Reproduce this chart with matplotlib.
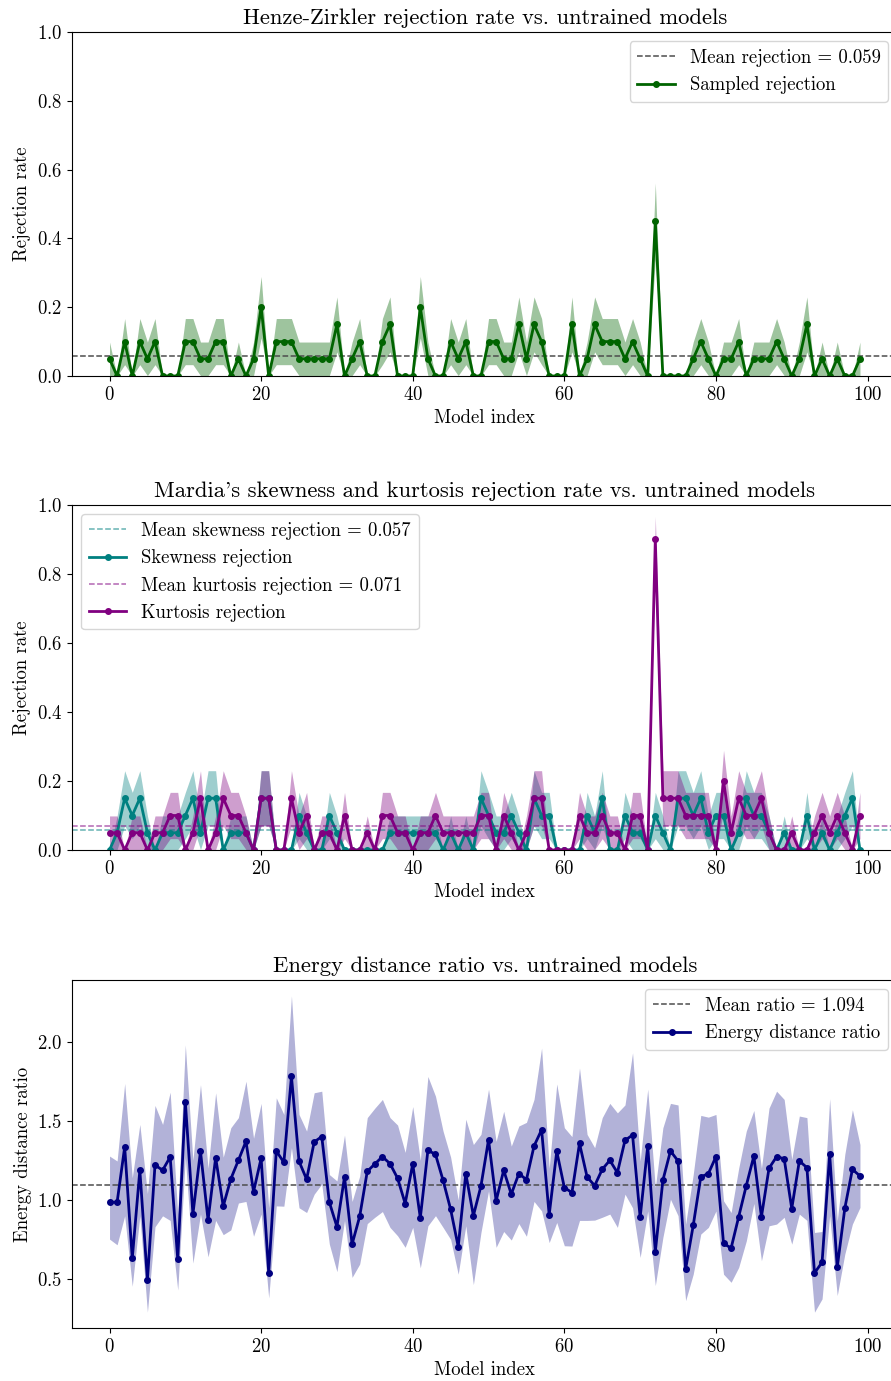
import numpy as np
import matplotlib.pyplot as plt
from matplotlib.ticker import MultipleLocator

plt.rcParams['font.family'] = 'serif'
plt.rcParams['font.serif'] = ['cmr10']
plt.rcParams['mathtext.fontset'] = 'cm'
plt.rcParams['axes.formatter.use_mathtext'] = True
plt.rcParams['axes.unicode_minus'] = False

# rejection rates per model (20 samples each)
n_samples = 20
hz_rej = [0.05, 0, 0.1, 0, 0.1, 0.05, 0.1, 0, 0, 0,
          0.1, 0.1, 0.05, 0.05, 0.1, 0.1, 0, 0.05, 0, 0.05,
          0.2, 0, 0.1, 0.1, 0.1, 0.05, 0.05, 0.05, 0.05, 0.05,
          0.15, 0, 0.05, 0.1, 0, 0, 0.1, 0.15, 0, 0,
          0, 0.2, 0.05, 0, 0, 0.1, 0.05, 0.1, 0, 0,
          0.1, 0.1, 0.05, 0.05, 0.15, 0.05, 0.15, 0.1, 0, 0,
          0, 0.15, 0, 0.05, 0.15, 0.1, 0.1, 0.1, 0.05, 0.1,
          0.05, 0, 0.45, 0, 0, 0, 0, 0.05, 0.1, 0.05,
          0, 0.05, 0.05, 0.1, 0, 0.05, 0.05, 0.05, 0.1, 0.05,
          0, 0.05, 0.15, 0, 0.05, 0, 0.05, 0, 0, 0.05]
hz_mean = 0.059

skew_rej = [0, 0.05, 0.15, 0.1, 0.15, 0.05, 0, 0.05, 0.05, 0.05,
            0.1, 0.15, 0.05, 0.15, 0.15, 0, 0.05, 0.05, 0.05, 0,
            0.15, 0.15, 0, 0, 0, 0.1, 0.05, 0, 0, 0.1,
            0.05, 0, 0, 0, 0, 0, 0, 0.05, 0.05, 0.05,
            0.05, 0.05, 0.05, 0.05, 0, 0.05, 0, 0.05, 0, 0.15,
            0.1, 0.05, 0.05, 0.1, 0.05, 0, 0.15, 0.1, 0.1, 0,
            0, 0, 0, 0.1, 0.05, 0.15, 0, 0, 0.1, 0.05,
            0.05, 0, 0.1, 0.05, 0, 0.15, 0.15, 0.1, 0.15, 0.05,
            0.1, 0.1, 0, 0.05, 0.15, 0.1, 0.1, 0.05, 0, 0.05,
            0, 0, 0.1, 0, 0.05, 0, 0.05, 0.1, 0.15, 0]
skew_mean = 0.057

kurt_rej = [0.05, 0.05, 0, 0.05, 0.05, 0, 0.05, 0.05, 0.1, 0.1,
            0, 0.05, 0.15, 0, 0.05, 0.15, 0.1, 0.1, 0.05, 0,
            0.15, 0.15, 0, 0, 0.15, 0.05, 0.1, 0, 0.05, 0.05,
            0, 0.1, 0, 0, 0.05, 0, 0.1, 0.1, 0.05, 0.05,
            0, 0.05, 0.05, 0.1, 0.05, 0.05, 0.05, 0.05, 0.05, 0.1,
            0.1, 0, 0.1, 0.05, 0, 0.05, 0.15, 0.15, 0, 0,
            0, 0, 0.1, 0.05, 0.05, 0.1, 0.05, 0.05, 0, 0.1,
            0.1, 0, 0.9, 0.15, 0.15, 0.15, 0.1, 0.1, 0.1, 0.1,
            0, 0.2, 0.05, 0.15, 0.1, 0.1, 0.15, 0.05, 0, 0,
            0.05, 0, 0, 0.05, 0.1, 0.05, 0.1, 0.05, 0, 0.1]
kurt_mean = 0.071

ed_ratio = [0.985, 0.985, 1.334, 0.63, 1.187, 0.493, 1.221, 1.187, 1.271, 0.624,
            1.62, 0.91, 1.307, 0.872, 1.267, 0.96, 1.132, 1.25, 1.37, 1.052,
            1.263, 0.54, 1.309, 1.237, 1.78, 1.244, 1.13, 1.366, 1.40, 0.985,
            0.83, 1.145, 0.72, 0.895, 1.18, 1.227, 1.273, 1.229, 1.137, 0.977,
            1.227, 0.886, 1.313, 1.288, 1.124, 0.94, 0.704, 1.166, 0.90, 1.088,
            1.38, 0.994, 1.187, 1.036, 1.166, 1.128, 1.34, 1.443, 0.905, 1.307,
            1.078, 1.046, 1.357, 1.145, 1.09, 1.193, 1.25, 1.172, 1.376, 1.41,
            0.889, 1.34, 0.672, 1.124, 1.309, 1.246, 0.563, 0.838, 1.145, 1.166,
            1.273, 0.725, 0.695, 0.893, 1.09, 1.277, 0.893, 1.20, 1.273, 1.26,
            0.945, 1.246, 1.204, 0.538, 0.605, 1.288, 0.573, 0.947, 1.193, 1.151]
ed_upper = [1.277, 1.246, 1.736, 1.14, 1.477, 1.04, 1.597, 1.477, 1.681, 0.91,
            1.98, 1.25, 1.729, 1.20, 1.677, 1.27, 1.456, 1.52, 1.75, 1.39,
            1.61, 0.95, 1.645, 1.54, 2.29, 1.54, 1.435, 1.677, 1.687, 1.16,
            1.12, 1.41, 0.99, 1.15, 1.52, 1.58, 1.635, 1.52, 1.473, 1.30,
            1.59, 1.25, 1.78, 1.656, 1.435, 1.27, 1.0, 1.51, 1.35, 1.414,
            1.70, 1.37, 1.56, 1.34, 1.467, 1.49, 1.635, 1.96, 1.20, 1.733,
            1.456, 1.40, 1.834, 1.414, 1.33, 1.52, 1.61, 1.55, 1.60, 1.93,
            1.246, 1.70, 1.078, 1.456, 1.61, 1.60, 0.847, 1.16, 1.534, 1.523,
            1.54, 0.994, 0.92, 1.20, 1.435, 1.565, 1.20, 1.58, 1.687, 1.635,
            1.256, 1.53, 1.52, 0.794, 0.80, 1.64, 0.868, 1.288, 1.57, 1.35]
ed_lower = [0.752, 0.716, 0.899, 0.454, 0.899, 0.29, 0.83, 0.899, 0.87, 0.43,
            1.267, 0.60, 0.91, 0.64, 0.87, 0.78, 0.81, 0.98, 0.99, 0.77,
            0.91, 0.38, 0.962, 0.96, 1.33, 0.95, 0.92, 1.036, 1.10, 0.72,
            0.546, 0.87, 0.51, 0.594, 0.85, 0.89, 0.926, 0.826, 0.773, 0.70,
            0.826, 0.57, 0.836, 0.90, 0.826, 0.75, 0.53, 0.836, 0.464, 0.794,
            1.057, 0.70, 0.80, 0.746, 0.85, 0.77, 0.99, 0.93, 0.73, 0.857,
            0.71, 0.708, 0.87, 0.87, 0.872, 0.89, 0.91, 0.826, 1.036, 0.95,
            0.636, 0.93, 0.458, 0.762, 1.004, 0.90, 0.363, 0.53, 0.784, 0.826,
            0.93, 0.53, 0.479, 0.573, 0.74, 0.977, 0.615, 0.836, 0.847, 0.89,
            0.72, 0.91, 0.87, 0.29, 0.374, 0.90, 0.395, 0.657, 0.847, 0.952]
ed_mean = 1.094

idx = np.arange(len(hz_rej))


def band(p):
    p = np.array(p, dtype=float)
    se = np.sqrt(p * (1 - p) / n_samples)
    return np.clip(p - se, 0, 1), np.clip(p + se, 0, 1)


W, H = 891, 1381
fig = plt.figure(figsize=(W / 100, H / 100), dpi=100)
left, width = 72 / W, 825.5 / W
ax1 = fig.add_axes([left, 1 - 376 / H, width, 344 / H])
ax2 = fig.add_axes([left, 1 - 850 / H, width, 345 / H])
ax3 = fig.add_axes([left, 1 - 1328 / H, width, 348 / H])

fs = 13.5
tfs = 16.3

# Henze-Zirkler
lo, hi = band(hz_rej)
ax1.fill_between(idx, lo, hi, color='darkgreen', alpha=0.38, linewidth=0)
ax1.axhline(hz_mean, color='0.3', linestyle='--', linewidth=1.1,
            label=f'Mean rejection = {hz_mean:.3f}')
ax1.plot(idx, hz_rej, color='darkgreen', marker='o', markersize=4, linewidth=2,
         label='Sampled rejection')
ax1.set_ylim(0, 1)
ax1.set_title('Henze-Zirkler rejection rate vs. untrained models', fontsize=tfs)
ax1.set_ylabel('Rejection rate', fontsize=fs)
ax1.legend(loc='upper right', fontsize=fs)

# Mardia
lo, hi = band(skew_rej)
ax2.fill_between(idx, lo, hi, color='teal', alpha=0.38, linewidth=0)
ax2.axhline(skew_mean, color='teal', alpha=0.6, linestyle='--', linewidth=1.1,
            label=f'Mean skewness rejection = {skew_mean:.3f}')
ax2.plot(idx, skew_rej, color='teal', marker='o', markersize=4, linewidth=2,
         label='Skewness rejection')
lo, hi = band(kurt_rej)
ax2.fill_between(idx, lo, hi, color='purple', alpha=0.38, linewidth=0)
ax2.axhline(kurt_mean, color='purple', alpha=0.6, linestyle='--', linewidth=1.1,
            label=f'Mean kurtosis rejection = {kurt_mean:.3f}')
ax2.plot(idx, kurt_rej, color='purple', marker='o', markersize=4, linewidth=2,
         label='Kurtosis rejection')
ax2.set_ylim(0, 1)
ax2.set_title("Mardia's skewness and kurtosis rejection rate vs. untrained models", fontsize=tfs)
ax2.set_ylabel('Rejection rate', fontsize=fs)
ax2.legend(loc='upper left', fontsize=fs)

# Energy distance
ax3.fill_between(idx, ed_lower, ed_upper, color='navy', alpha=0.3, linewidth=0)
ax3.axhline(ed_mean, color='0.3', linestyle='--', linewidth=1.1,
            label=f'Mean ratio = {ed_mean:.3f}')
ax3.plot(idx, ed_ratio, color='navy', marker='o', markersize=4, linewidth=2,
         label='Energy distance ratio')
ax3.yaxis.set_major_locator(MultipleLocator(0.5))
ax3.set_title('Energy distance ratio vs. untrained models', fontsize=tfs)
ax3.set_ylabel('Energy distance ratio', fontsize=fs)
ax3.legend(loc='upper right', fontsize=fs)

for ax in (ax1, ax2, ax3):
    ax.set_xlim(-4.95, 103.95)
    ax.set_xlabel('Model index', fontsize=fs)
    ax.tick_params(labelsize=fs)

fig.savefig('out.png', dpi=100)
